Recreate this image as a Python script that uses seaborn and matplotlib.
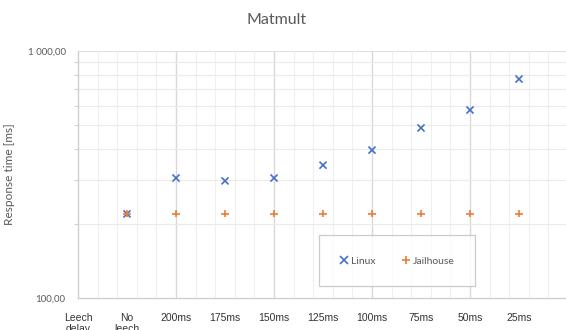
import numpy as np
import pandas as pd
import matplotlib.pyplot as plt
import seaborn as sns

# dados
categorias = ['Leech\ndelay', 'No\nleech', '200ms', '175ms', '150ms', '125ms',
              '100ms', '75ms', '50ms', '25ms']
pos = [1, 2, 3, 4, 5, 6, 7, 8, 9]
linux = [219, 306, 298, 306, 345, 397, 488, 577, 770]
jailhouse = [219, 219, 219, 219, 219, 219, 219, 219, 219]

df = pd.DataFrame({
    'pos': pos * 2,
    'tempo': linux + jailhouse,
    'serie': ['Linux'] * len(linux) + ['Jailhouse'] * len(jailhouse),
})

sns.set_style('white')
plt.rcParams['font.family'] = ['Lato', 'DejaVu Sans']

fig = plt.figure(figsize=(5.66, 3.30), dpi=100)
ax = fig.add_axes([78 / 566, 1 - 298 / 330, 490 / 566, 247 / 330])

ax.set_yscale('log')
ax.set_ylim(100, 1000)
ax.set_xlim(0, 10)

# grade
ax.set_xticks(np.arange(0, 10.01, 0.4), minor=True)
ax.grid(which='minor', axis='x', color='#F0F0F0', lw=0.8)
for xv in [2, 4, 6, 8]:
    ax.axvline(xv, color='#D9D9D9', lw=1.0, zorder=0.5)
ax.set_yticks([100, 1000])
ax.set_yticks(np.arange(200, 1000, 100), minor=True)
ax.grid(which='minor', axis='y', color='#EBEBEB', lw=0.8)
ax.axhline(1000, color='#D9D9D9', lw=1.2, zorder=0.5)
ax.set_axisbelow(True)

sns.scatterplot(data=df, x='pos', y='tempo', hue='serie', style='serie',
                markers={'Linux': 'x', 'Jailhouse': '+'},
                palette={'Linux': '#4472C4', 'Jailhouse': '#ED7D31'},
                s=26, linewidth=1.2, ax=ax, zorder=3)

ax.set_xticks(range(len(categorias)))
ax.set_xticklabels(categorias, family='Liberation Sans', fontsize=7.5,
                   color='#333333', va='top', linespacing=1.05)
ax.tick_params(axis='x', which='both', length=0, pad=11)
ax.set_yticklabels(['100,00', '1 000,00'], fontsize=7.0, color='#595959')
ax.tick_params(axis='y', which='major', length=0, pad=9)
ax.tick_params(axis='y', which='minor', length=3, width=0.8, color='#D0D0D0',
               left=True, labelleft=False)

for lado in ['top', 'right']:
    ax.spines[lado].set_visible(False)
for lado in ['left', 'bottom']:
    ax.spines[lado].set_color('#D0D0D0')
    ax.spines[lado].set_linewidth(1.0)

ax.set_xlabel('')
ax.set_ylabel('Response time [ms]', fontsize=8.6, color='#595959')
ax.yaxis.set_label_coords((15 - 78) / 490, 0.5)
fig.text(277 / 566, 1 - 20 / 330, 'Matmult', ha='center', va='center',
         fontsize=11.5, color='#595959')

handles, labels = ax.get_legend_handles_labels()
leg = ax.legend(handles, labels, loc='center', bbox_to_anchor=(0.651, 0.15),
                ncol=2, frameon=True, fancybox=False, fontsize=7.5,
                handlelength=0.8, handletextpad=0.3, columnspacing=2.5,
                borderpad=2.0, markerscale=1.0)
leg.get_frame().set_edgecolor('#BFBFBF')
leg.get_frame().set_linewidth(0.9)
for t in leg.get_texts():
    t.set_color('#595959')

plt.savefig('out.png', dpi=100)
